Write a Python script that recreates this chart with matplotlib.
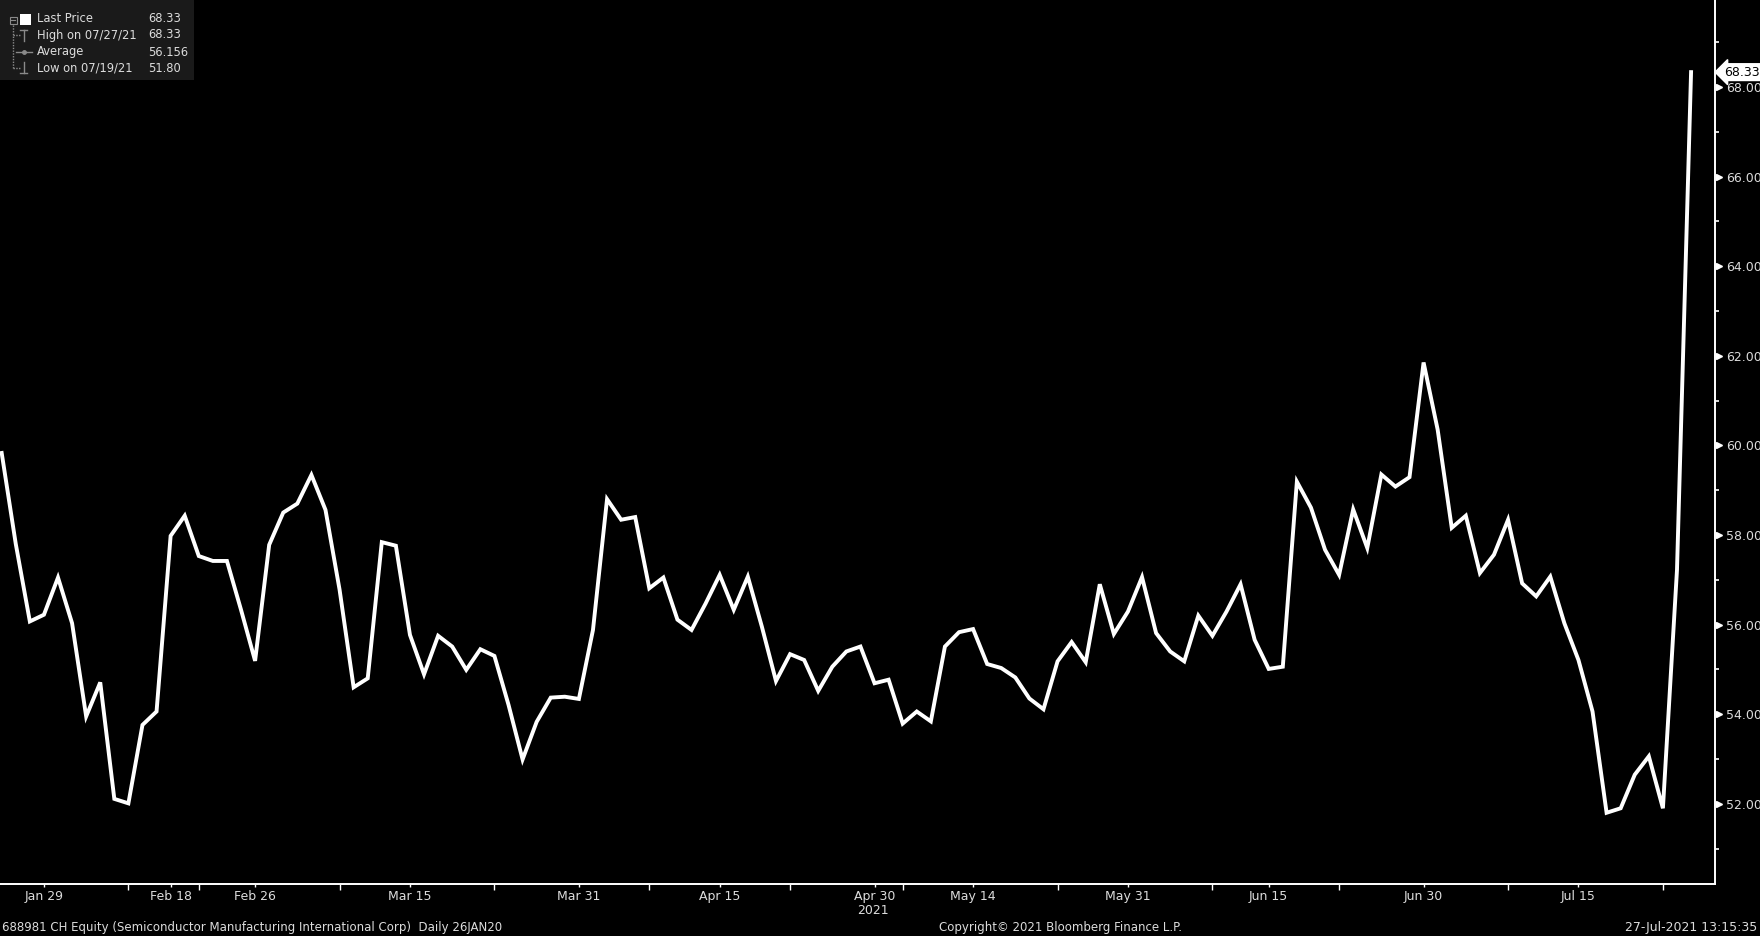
import matplotlib
matplotlib.use("Agg")
import matplotlib.pyplot as plt
import matplotlib.transforms as mtransforms
from matplotlib.lines import Line2D
from matplotlib.patches import Rectangle

# daily closes, 26 Jan 2021 .. 27 Jul 2021 (trading days)
prices = [59.83, 57.80, 56.07, 56.22, 57.05, 56.03, 53.95, 54.71, 52.11, 52.01,
          53.76, 54.06, 57.98, 58.43, 57.53, 57.42, 57.42, 56.33, 55.19, 57.78,
          58.50, 58.70, 59.34, 58.56, 56.78, 54.60, 54.80, 57.84, 57.76, 55.77,
          54.89, 55.75, 55.51, 54.99, 55.45, 55.30, 54.21, 52.99, 53.83, 54.37,
          54.39, 54.34, 55.88, 58.80, 58.34, 58.40, 56.81, 57.05, 56.11, 55.88,
          56.47, 57.11, 56.33, 57.07, 55.95, 54.74, 55.34, 55.21, 54.52, 55.06,
          55.40, 55.51, 54.69, 54.77, 53.79, 54.06, 53.84, 55.51, 55.83, 55.90,
          55.12, 55.03, 54.82, 54.35, 54.11, 55.18, 55.61, 55.16, 56.90, 55.79,
          56.29, 57.06, 55.81, 55.40, 55.18, 56.20, 55.75, 56.29, 56.90, 55.66,
          55.01, 55.06, 59.19, 58.61, 57.67, 57.11, 58.57, 57.71, 59.35, 59.08,
          59.29, 61.85, 60.35, 58.16, 58.43, 57.15, 57.56, 58.34, 56.92, 56.63,
          57.07, 56.03, 55.21, 54.06, 51.80, 51.90, 52.65, 53.06, 51.90, 57.22,
          68.33]

# x axis labels sit on these trading-day positions
date_labels = ["Jan 29", "Feb 18", "Feb 26", "Mar 15", "Mar 31", "Apr 15",
               "Apr 30", "May 14", "May 31", "Jun 15", "Jun 30", "Jul 15"]
date_pos = [3, 12, 18, 29, 41, 51, 62, 69, 80, 90, 101, 112]
minor_pos = [9, 14, 24, 35, 46, 56, 64, 75, 86, 95, 107, 118]

y_major = [52, 54, 56, 58, 60, 62, 64, 66, 68]
y_minor = [51, 53, 55, 57, 59, 61, 63, 65, 67, 69]

legend_rows = ["Last Price", "High on 07/27/21", "Average", "Low on 07/19/21"]
legend_vals = ["68.33", "68.33", "56.156", "51.80"]
last_price = 68.33

W, H = 1760, 936
txt = "#dcdcdc"

fig = plt.figure(figsize=(W / 100, H / 100), dpi=100, facecolor="black")
ax = fig.add_axes([0, 1 - 884 / H, 1715 / W, 884 / H])
ax.set_facecolor("black")

x = list(range(len(prices)))
ax.plot(x, prices, color="white", lw=2.8, solid_joinstyle="miter")

ax.set_xlim(-0.12, 121.7)
ax.set_ylim(50.21, 69.94)

for s in ["left", "top"]:
    ax.spines[s].set_visible(False)
for s in ["right", "bottom"]:
    ax.spines[s].set_color("white")
    ax.spines[s].set_linewidth(1.4)

ax.set_xticks(date_pos)
ax.set_xticklabels(date_labels)
ax.set_xticks(minor_pos, minor=True)
ax.tick_params(axis="x", which="major", length=2, width=1, color="white",
               labelsize=9, labelcolor=txt, pad=2)
ax.tick_params(axis="x", which="minor", length=4, width=1, color="white")

ax.yaxis.tick_right()
ax.set_yticks(y_major)
ax.set_yticklabels([f"{v:.2f}" for v in y_major])
ax.set_yticks(y_minor, minor=True)
ax.tick_params(axis="y", which="major", length=0, labelsize=9,
               labelcolor=txt, pad=8)
ax.tick_params(axis="y", which="minor", length=3, width=1.2, color="white")

# little white pointers next to the price labels
tri = mtransforms.offset_copy(ax.get_yaxis_transform(), fig=fig, x=4, y=0, units="dots")
ax.plot([1.0] * len(y_major), y_major, ls="none", marker=">", ms=5,
        color="white", transform=tri, clip_on=False)

# last price tag
tag = mtransforms.offset_copy(ax.get_yaxis_transform(), fig=fig, x=9, y=0, units="dots")
ax.text(1.0, last_price, f"{last_price:.2f}", transform=tag, ha="left", va="center",
        fontsize=9, color="black",
        bbox=dict(boxstyle="larrow,pad=0.15", fc="white", ec="white"))

# year under the x axis
fig.text(873 / W, 1 - 910 / H, "2021", ha="center", va="center", fontsize=9, color=txt)

# footer
fig.text(2 / W, 1 - 927 / H,
         "688981 CH Equity (Semiconductor Manufacturing International Corp)  Daily 26JAN20",
         ha="left", va="center", fontsize=8.5, color=txt)
fig.text(1060 / W, 1 - 927 / H, "Copyright\u00a9 2021 Bloomberg Finance L.P.",
         ha="center", va="center", fontsize=8.5, color=txt)
fig.text(1757 / W, 1 - 927 / H, "27-Jul-2021 13:15:35",
         ha="right", va="center", fontsize=9, color=txt)

# legend box top-left (pixel coords)
def px(xp, yp):
    return xp / W, 1 - yp / H

fig.patches.append(Rectangle(px(0, 80), 194 / W, 80 / H, transform=fig.transFigure,
                             fc="#1a1a1a", ec="none", zorder=5))
row_y = [19, 35, 52, 68]
grey = "#8a8a8a"
for xs, ys, kw in [
    ([13, 13], [25, 68], dict(ls=(0, (1, 1)))),
    ([13, 20], [35, 35], dict(ls=(0, (1, 1)))),
    ([13, 20], [68, 68], dict(ls=(0, (1, 1)))),
    ([20, 27], [30, 30], {}), ([23.5, 23.5], [30, 41], {}),
    ([16, 32], [52, 52], {}),
    ([20, 27], [73, 73], {}), ([23.5, 23.5], [62, 73], {}),
]:
    fig.add_artist(Line2D([v / W for v in xs], [1 - v / H for v in ys], color=grey,
                          lw=1, transform=fig.transFigure, zorder=6, **kw))
fig.add_artist(Line2D([24 / W], [1 - 52 / H], marker="o", ms=2.5, color=grey,
                      transform=fig.transFigure, zorder=6))
fig.patches.append(Rectangle(px(9.5, 23.5), 7 / W, 7 / H, transform=fig.transFigure,
                             fc="none", ec=grey, lw=0.8, zorder=6))
fig.add_artist(Line2D([11 / W, 15 / W], [1 - 20 / H] * 2, color=grey, lw=0.8,
                      transform=fig.transFigure, zorder=6))
fig.patches.append(Rectangle(px(20, 25), 11 / W, 11 / H, transform=fig.transFigure,
                             fc="white", ec="none", zorder=6))
for lab, val, yy in zip(legend_rows, legend_vals, row_y):
    fig.text(37 / W, 1 - yy / H, lab, ha="left", va="center", fontsize=8.3,
             color=txt, zorder=7)
    fig.text(148 / W, 1 - yy / H, val, ha="left", va="center", fontsize=8.3,
             color=txt, zorder=7)

fig.savefig("out.png", dpi=100, facecolor="black")
